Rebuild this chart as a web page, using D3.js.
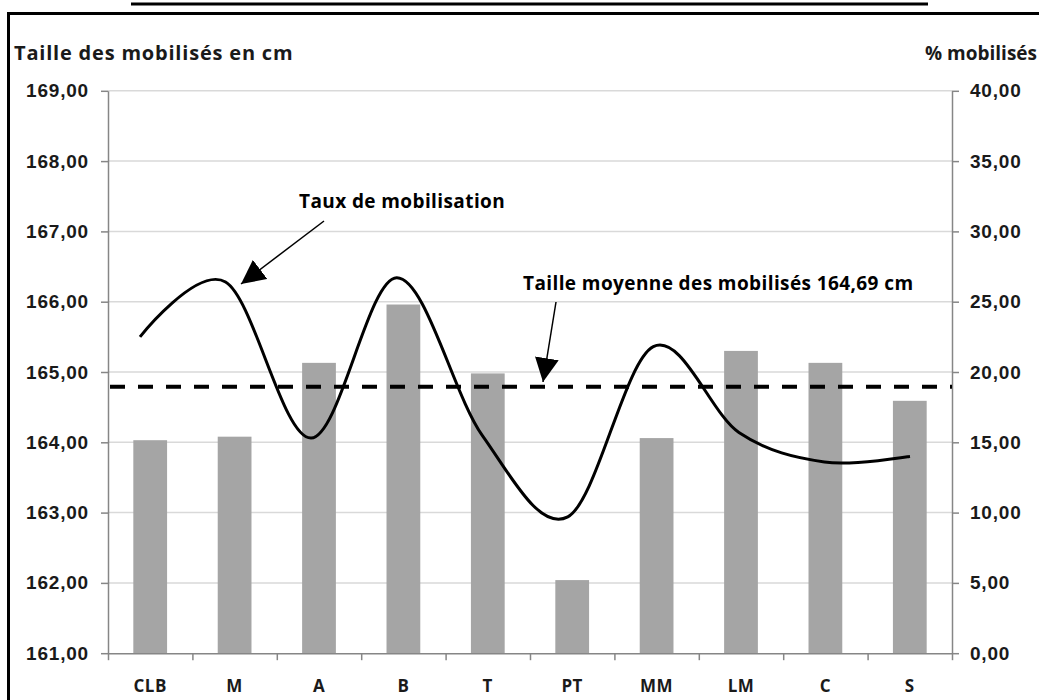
<!DOCTYPE html>
<html lang="fr">
<head>
    <meta charset="UTF-8">
    <title>Taille et taux de mobilisation</title>
    <style>
        body { margin: 0; background: #fff; }
        svg { display: block; font-family: "Open Sans", "Noto Sans", sans-serif; }
    </style>
</head>
<body>
    <div id="chart"></div>

    <script src="https://d3js.org/d3.v7.min.js"></script>
    <script>
        // categories
        const regions = ['CLB', 'M', 'A', 'B', 'T', 'PT', 'MM', 'LM', 'C', 'S']
        // taille moyenne (cm), axe gauche
        const tailles = [164.03, 164.08, 165.13, 165.96, 164.98, 162.04, 164.06, 165.30, 165.13, 164.59]
        // taux de mobilisation (%), axe droit
        const taux = [22.5, 26.4, 15.3, 26.7, 15.5, 9.7, 21.8, 15.7, 13.6, 14.0]
        const moyenneTaille = 164.79
        const moyenneLabel = 'Taille moyenne des mobilisés 164,69 cm'
        const leftTicks = [161, 162, 163, 164, 165, 166, 167, 168, 169]
        const rightTicks = [0, 5, 10, 15, 20, 25, 30, 35, 40]

        const width = 1039
        const height = 700
        const plot = { left: 108, right: 952, top: 90.8, bottom: 653.2 }
        const barColor = '#a5a5a5'
        const gridColor = '#d9d9d9'
        const axisColor = '#868686'
        const textColor = '#1a1a1a'

        const fmt = d => d.toFixed(2).replace('.', ',')

        const x = d3.scaleBand()
            .domain(regions)
            .range([plot.left, plot.right])
            .paddingInner(0.6)
            .paddingOuter(0.3)

        // la courbe lissée est légèrement décalée par rapport aux barres
        const xLine = d3.scalePoint()
            .domain(regions)
            .range([140, 910])

        const yLeft = d3.scaleLinear()
            .domain([161, 169])
            .range([plot.bottom, plot.top])

        const yRight = d3.scaleLinear()
            .domain([0, 40])
            .range([plot.bottom, plot.top])

        const svg = d3.select('#chart')
            .append('svg')
            .attr('width', width)
            .attr('height', height)

        // cadre + soulignement du titre
        svg.append('path')
            .attr('d', `M8.5,${height} V13.5 H${width}`)
            .attr('fill', 'none')
            .attr('stroke', '#000')
            .attr('stroke-width', 3)
        svg.append('line')
            .attr('x1', 131).attr('x2', 928)
            .attr('y1', 4).attr('y2', 4)
            .attr('stroke', '#000')
            .attr('stroke-width', 3)

        // grille
        svg.append('g')
            .selectAll('line')
            .data(leftTicks.slice(1))
            .join('line')
            .attr('x1', plot.left)
            .attr('x2', plot.right)
            .attr('y1', d => yLeft(d))
            .attr('y2', d => yLeft(d))
            .attr('stroke', gridColor)
            .attr('stroke-width', 1.5)

        // barres
        svg.append('g')
            .selectAll('rect')
            .data(regions)
            .join('rect')
            .attr('x', d => x(d))
            .attr('width', x.bandwidth())
            .attr('y', (d, i) => yLeft(tailles[i]))
            .attr('height', (d, i) => yLeft(161) - yLeft(tailles[i]))
            .attr('fill', barColor)

        // axes
        function styleAxis(g) {
            g.select('.domain').attr('stroke', axisColor).attr('stroke-width', 1.5)
            g.selectAll('.tick line').attr('stroke', axisColor).attr('stroke-width', 1.5)
            g.selectAll('.tick text')
                .attr('fill', textColor)
                .style('font-size', '19px')
                .style('font-weight', 'bold')
                .style('letter-spacing', '0.8px')
        }

        svg.append('g')
            .attr('transform', `translate(${plot.left},0)`)
            .call(d3.axisLeft(yLeft).tickValues(leftTicks).tickFormat(fmt).tickSize(7).tickPadding(12).tickSizeOuter(0))
            .call(styleAxis)

        svg.append('g')
            .attr('transform', `translate(${plot.right},0)`)
            .call(d3.axisRight(yRight).tickValues(rightTicks).tickFormat(fmt).tickSize(7).tickPadding(11).tickSizeOuter(0))
            .call(styleAxis)

        // axe horizontal : graduations entre les catégories
        const xTicks = d3.scaleLinear().domain([0, regions.length]).range([plot.left, plot.right])
        svg.append('g')
            .attr('transform', `translate(0,${plot.bottom})`)
            .call(d3.axisBottom(xTicks).ticks(regions.length).tickFormat('').tickSize(7).tickSizeOuter(0))
            .call(styleAxis)

        svg.append('g')
            .selectAll('text')
            .data(regions)
            .join('text')
            .attr('x', d => x(d) + x.bandwidth() / 2)
            .attr('y', 692)
            .attr('text-anchor', 'middle')
            .attr('fill', textColor)
            .style('font-size', '17px')
            .style('font-weight', 'bold')
            .style('letter-spacing', '0.5px')
            .text(d => d)

        // titres des axes
        svg.append('text')
            .attr('x', 14).attr('y', 60)
            .attr('fill', textColor)
            .style('font-size', '20px')
            .style('font-weight', 'bold')
            .style('letter-spacing', '0.8px')
            .text('Taille des mobilisés en cm')
        svg.append('text')
            .attr('x', 1037).attr('y', 60)
            .attr('text-anchor', 'end')
            .attr('fill', textColor)
            .style('font-size', '19px')
            .style('font-weight', 'bold')
            .text('% mobilisés')

        // ligne moyenne
        svg.append('line')
            .attr('x1', plot.left).attr('x2', plot.right)
            .attr('y1', yLeft(moyenneTaille)).attr('y2', yLeft(moyenneTaille))
            .attr('stroke', '#000')
            .attr('stroke-width', 4)
            .attr('stroke-dasharray', '15,13')
            .attr('stroke-dashoffset', -2)

        // courbe lissée du taux
        const line = d3.line()
            .x((d, i) => xLine(regions[i]))
            .y(d => yRight(d))
            .curve(d3.curveCatmullRom.alpha(0))

        svg.append('path')
            .datum(taux)
            .attr('d', line)
            .attr('fill', 'none')
            .attr('stroke', '#000')
            .attr('stroke-width', 3)

        // annotations
        svg.append('defs')
            .append('marker')
            .attr('id', 'arrow')
            .attr('viewBox', '0 0 10 10')
            .attr('refX', 10).attr('refY', 5)
            .attr('markerWidth', 24).attr('markerHeight', 24)
            .attr('markerUnits', 'userSpaceOnUse')
            .attr('orient', 'auto')
            .append('path')
            .attr('d', 'M0,0 L10,5 L0,10 Z')
            .attr('fill', '#000')

        function annotate(label, tx, ty, x1, y1, x2, y2) {
            svg.append('text')
                .attr('x', tx).attr('y', ty)
                .attr('fill', '#000')
                .style('font-size', '19px')
                .style('font-weight', 'bold')
                .style('letter-spacing', '0.4px')
                .text(label)
            svg.append('line')
                .attr('x1', x1).attr('y1', y1)
                .attr('x2', x2).attr('y2', y2)
                .attr('stroke', '#000')
                .attr('stroke-width', 1.5)
                .attr('marker-end', 'url(#arrow)')
        }

        annotate('Taux de mobilisation', 299, 208, 324, 221, 241, 284)
        annotate(moyenneLabel, 523, 290, 556, 302, 543, 382)
    </script>
</body>
</html>
